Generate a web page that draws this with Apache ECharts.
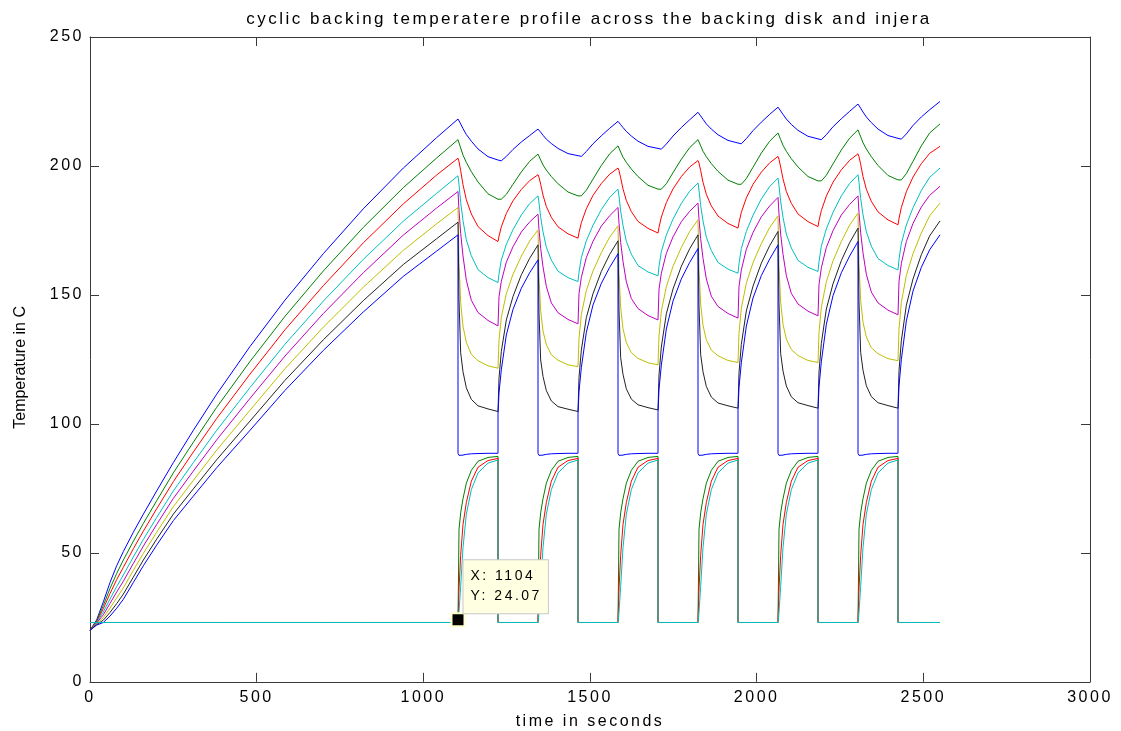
<!DOCTYPE html>
<html><head><meta charset="utf-8">
<script src="https://cdn.jsdelivr.net/npm/echarts@6/dist/echarts.min.js"></script>
<style>html,body{margin:0;padding:0;background:#fff}#c{width:1121px;height:731px}</style>
</head><body><div id="c"></div>
<script>
// wide MATLAB-like glyph spacing for horizontal text
(function(){
  var P = CanvasRenderingContext2D.prototype;
  if (!('letterSpacing' in P)) return;
  var of = P.fillText, om = P.measureText;
  P.fillText = function(){
    var m = this.getTransform();
    this.letterSpacing = Math.abs(m.b) > 0.01 ? '0px' : '2.5px';
    return of.apply(this, arguments);
  };
  P.measureText = function(){ this.letterSpacing = '2.5px'; return om.apply(this, arguments); };
})();

const titleText = 'cyclic backing temperatere profile across the backing disk and injera';
const xName = 'time in seconds';
const yName = 'Temperature in C';
const xTicks = [0, 3000, 500];
const yTicks = [0, 250, 50];
const tipX = 1104, tipY = 24.07;

const time = [0,20,40,60,80,100,130,160,200,250,310,380,480,585,700,820,940,1040,
 1104,1104,1107,1112,1119,1129,1144,1164,1194,1224,1224,1227,1234,1249,1269,1294,1319,
 1344,1344,1347,1352,1359,1369,1384,1404,1434,1464,1464,1467,1474,1489,1509,1534,1559,
 1584,1584,1587,1592,1599,1609,1624,1644,1674,1704,1704,1707,1714,1729,1749,1774,1799,
 1824,1824,1827,1832,1839,1849,1864,1884,1914,1944,1944,1947,1954,1969,1989,2014,2039,
 2064,2064,2067,2072,2079,2089,2104,2124,2154,2184,2184,2187,2194,2209,2229,2254,2279,
 2304,2304,2307,2312,2319,2329,2344,2364,2394,2424,2424,2427,2434,2449,2469,2494,2519,
 2550];

const disk1 = [20,24,31,38.5,45,50.5,58,65,74,85,97.5,111.5,130,148,166,183.4,199.2,211,
 218.2,218.2,217.5,216.3,214.5,212.2,209.6,206.6,203.6,202.3,202.3,202.1,202.0,203.7,206.4,209.3,211.8,
 214.3,214.3,213.8,213.1,211.9,210.4,208.7,206.8,204.8,204.0,204.0,203.8,203.7,205.6,208.6,211.7,214.6,
 217.3,217.3,216.8,216.0,214.9,213.4,211.6,209.6,207.6,206.8,206.8,206.6,206.5,208.5,211.6,214.9,217.9,
 220.8,220.8,220.3,219.4,218.1,216.3,214.3,212.1,209.9,208.9,208.9,208.7,208.6,210.6,213.7,217.0,220.0,
 222.8,222.8,222.3,221.3,220.0,218.2,216.1,213.8,211.5,210.5,210.5,210.3,210.2,212.1,215.2,218.3,221.2,
 224.0,224.0,223.4,222.4,220.9,219.0,216.8,214.3,211.8,210.7,210.7,210.5,210.4,212.4,215.7,219.0,221.8,
 225.0];
const disk2 = [20,23.6,29.6,36.2,42.0,47.2,54.5,61.4,70.2,81.0,92.9,106.4,124.2,141.7,159.3,176.2,191.6,203.1,
 210.2,210.2,209.5,207.0,204.2,201.4,197.8,193.8,189.2,187.1,187.1,186.9,187.1,189.0,192.9,197.7,201.8,
 204.6,204.6,204.1,202.3,200.4,198.4,195.9,193.1,189.9,188.4,188.4,188.2,188.4,190.6,194.9,200.2,204.7,
 207.8,207.8,207.3,205.4,203.4,201.4,198.8,195.9,192.5,191.0,191.0,190.8,191.0,193.1,197.4,202.6,207.1,
 210.2,210.2,209.7,207.8,205.7,203.6,200.9,197.9,194.5,192.9,192.9,192.7,192.9,195.1,199.5,205.0,209.6,
 212.8,212.8,212.2,210.2,208.0,205.7,202.8,199.6,195.9,194.2,194.2,194.0,194.2,196.4,200.8,206.2,210.8,
 214.0,214.0,213.4,211.3,209.0,206.6,203.6,200.2,196.3,194.6,194.6,194.4,194.6,197.0,201.8,207.8,212.8,
 216.3];
const disk3 = [20,23.3,28.4,34.2,39.6,44.4,51.6,58.4,67.1,77.6,89.1,102.1,119.3,136.5,153.6,170.2,185.3,196.5,
 203.0,203.0,201.7,198.2,192.7,186.9,181.4,176.5,173.0,170.7,170.7,172.8,176.4,181.6,186.5,190.9,194.3,
 196.6,196.6,195.6,192.9,188.7,184.3,180.1,176.4,173.7,172.0,172.0,174.2,178.0,183.4,188.6,193.2,196.8,
 199.2,199.2,198.2,195.4,191.1,186.6,182.3,178.5,175.8,174.0,174.0,176.2,180.2,185.8,191.1,195.9,199.6,
 202.1,202.1,201.1,198.2,193.7,189.0,184.5,180.6,177.7,175.9,175.9,178.1,182.0,187.6,192.9,197.6,201.2,
 203.7,203.7,202.6,199.6,195.0,190.1,185.5,181.4,178.4,176.5,176.5,178.8,182.7,188.3,193.7,198.5,202.2,
 204.7,204.7,203.6,200.6,195.9,191.0,186.3,182.2,179.1,177.2,177.2,179.6,183.9,190.0,195.7,200.9,204.9,
 207.6];
const disk4 = [20,23.0,27.1,32.1,36.9,41.4,48.4,55.2,63.7,74.0,85.0,97.5,114.1,130.9,147.6,163.8,178.6,189.4,
 196.2,196.2,192.9,185.9,178.8,171.4,165.2,159.8,156.7,154.8,154.8,158.2,163.5,169.6,175.3,181.0,185.4,
 188.4,188.4,185.7,180.1,174.5,168.5,163.5,159.2,156.7,155.2,155.2,158.8,164.5,171.0,177.0,183.1,187.8,
 191.0,191.0,188.3,182.6,176.9,170.8,165.8,161.4,158.9,157.4,157.4,161.0,166.8,173.2,179.4,185.5,190.2,
 193.4,193.4,190.6,184.7,178.7,172.4,167.2,162.6,160.0,158.4,158.4,162.1,168.0,174.6,180.9,187.2,192.0,
 195.3,195.3,192.4,186.3,180.1,173.6,168.2,163.4,160.7,159.1,159.1,162.9,168.9,175.6,182.0,188.4,193.2,
 196.6,196.6,193.6,187.4,181.1,174.5,168.9,164.1,161.4,159.7,159.7,163.7,170.0,177.1,183.8,190.5,195.6,
 199.2];
const disk5 = [20,22.8,26.0,30.4,34.8,39.0,45.9,52.6,61.0,71.1,81.7,93.8,109.9,126.3,142.8,158.6,173.2,183.7,
 190.1,190.1,182.8,173.9,165.1,155.7,147.9,143.2,140.1,138.0,138.0,149.3,155.3,162.7,168.7,174.4,178.3,
 181.3,181.3,175.4,168.1,160.9,153.3,146.9,143.1,140.5,138.8,138.8,150.5,156.8,164.5,170.8,176.7,180.7,
 183.9,183.9,177.8,170.4,163.0,155.1,148.6,144.7,142.0,140.3,140.3,152.1,158.4,166.1,172.5,178.4,182.4,
 185.6,185.6,179.4,171.8,164.2,156.2,149.5,145.5,142.8,141.0,141.0,153.2,159.7,167.7,174.2,180.3,184.5,
 187.8,187.8,181.4,173.6,165.8,157.5,150.6,146.5,143.7,141.9,141.9,154.0,160.5,168.4,174.9,181.0,185.1,
 188.4,188.4,181.9,174.1,166.3,158.0,151.1,146.9,144.1,142.3,142.3,155.2,162.2,170.7,177.7,184.1,188.6,
 192.1];
const disk6 = [20,22.5,24.9,28.6,32.5,36.4,43.2,49.8,58.0,67.9,78.1,89.8,105.3,121.4,137.5,153.0,167.3,177.6,
 183.9,183.9,162.7,147.1,137.8,131.6,127.0,124.5,122.5,121.6,121.6,132.3,141.4,150.5,158.0,165.0,170.9,
 175.2,175.2,157.2,143.9,136.0,130.7,126.8,124.7,122.9,122.2,122.2,133.1,142.4,151.7,159.3,166.4,172.4,
 176.8,176.8,158.5,145.0,136.9,131.5,127.6,125.4,123.7,122.9,122.9,134.1,143.7,153.2,161.1,168.4,174.6,
 179.1,179.1,160.3,146.5,138.2,132.6,128.6,126.4,124.6,123.8,123.8,135.2,144.9,154.5,162.5,169.9,176.1,
 180.7,180.7,161.4,147.1,138.6,132.9,128.8,126.5,124.6,123.8,123.8,135.4,145.2,155.1,163.2,170.7,177.1,
 181.7,181.7,162.3,147.9,139.4,133.7,129.5,127.2,125.3,124.5,124.5,136.7,147.1,157.5,166.0,174.0,180.7,
 185.6];
const disk7 = [20,22.2,23.9,26.9,30.3,34.0,40.6,47.2,55.3,65.0,74.8,86.1,101.1,116.9,132.6,147.8,161.8,171.8,
 178.2,178.2,148.1,127.6,120.2,114.0,109.5,107.0,105.8,104.8,104.8,117.7,128.1,140.3,149.4,157.8,164.2,
 169.4,169.4,142.9,124.8,118.4,112.9,108.9,106.7,105.7,104.8,104.8,118.0,128.6,141.2,150.5,159.1,165.7,
 171.0,171.0,144.1,125.7,119.2,113.6,109.6,107.4,106.3,105.4,105.4,119.0,129.8,142.7,152.3,161.1,167.9,
 173.3,173.3,145.7,126.9,120.2,114.5,110.4,108.1,107.0,106.1,106.1,119.8,130.8,143.8,153.4,162.3,169.1,
 174.6,174.6,146.5,127.3,120.5,114.7,110.5,108.2,107.1,106.1,106.1,120.1,131.2,144.5,154.3,163.3,170.3,
 175.9,175.9,147.3,127.7,120.8,114.8,110.6,108.2,107.1,106.1,106.1,120.6,132.2,146.0,156.2,165.6,172.9,
 178.7];
const disk8 = [20,22,23,25.5,28.5,32,38.5,45,53,62.5,72,83,97.5,113,128.5,143.4,157.2,167,
 173.3,88.6,87.8,87.5,87.9,88.2,88.4,88.5,88.6,88.6,103.8,112.0,121.0,134.5,144.4,152.6,158.6,
 163.6,88.6,87.8,87.5,87.9,88.2,88.4,88.5,88.6,88.6,103.8,112.5,121.8,135.5,146.1,154.5,160.7,
 166.0,88.6,87.8,87.5,87.9,88.2,88.4,88.5,88.6,88.6,104.4,113.3,122.8,136.8,147.6,156.2,162.6,
 168.0,88.6,87.8,87.5,87.9,88.2,88.4,88.5,88.6,88.6,105.1,114.1,123.7,137.9,148.8,157.5,163.9,
 169.4,88.6,87.8,87.5,87.9,88.2,88.4,88.5,88.6,88.6,105.1,114.3,124.1,138.6,149.7,158.6,165.1,
 170.7,88.6,87.8,87.5,87.9,88.2,88.4,88.5,88.6,88.6,105.1,114.6,124.9,139.9,151.5,160.7,167.5,
 173.3];
const injera1 = [23,23,23,23,23,23,23,23,23,23,23,23,23,23,23,23,23,23,
 23,23,59.0,65.5,71.0,77.0,82.0,85.5,87.0,87.4,23,23,23,23,23,23,23,
 23,23,59.0,65.5,71.0,77.0,82.0,85.5,87.0,87.4,23,23,23,23,23,23,23,
 23,23,59.0,65.5,71.0,77.0,82.0,85.5,87.0,87.4,23,23,23,23,23,23,23,
 23,23,59.0,65.5,71.0,77.0,82.0,85.5,87.0,87.4,23,23,23,23,23,23,23,
 23,23,59.0,65.5,71.0,77.0,82.0,85.5,87.0,87.4,23,23,23,23,23,23,23,
 23,23,59.0,65.5,71.0,77.0,82.0,85.5,87.0,87.4,23,23,23,23,23,23,23,
 23];
const injera2 = [23,23,23,23,23,23,23,23,23,23,23,23,23,23,23,23,23,23,
 23,24.07,36,49,61,69.5,77.8,83.2,85.8,86.6,23,23,23,23,23,23,23,
 23,24,36,49,61,69.5,77.8,83.2,85.8,86.6,23,23,23,23,23,23,23,
 23,24,36,49,61,69.5,77.8,83.2,85.8,86.6,23,23,23,23,23,23,23,
 23,24,36,49,61,69.5,77.8,83.2,85.8,86.6,23,23,23,23,23,23,23,
 23,24,36,49,61,69.5,77.8,83.2,85.8,86.6,23,23,23,23,23,23,23,
 23,24,36,49,61,69.5,77.8,83.2,85.8,86.6,23,23,23,23,23,23,23,
 23];
const injera3 = [23,23,23,23,23,23,23,23,23,23,23,23,23,23,23,23,23,23,
 23,23,27,37,52,65,74.5,81,84.8,86.0,23,23,23,23,23,23,23,
 23,23,27,37,52,65,74.5,81,84.8,86.0,23,23,23,23,23,23,23,
 23,23,27,37,52,65,74.5,81,84.8,86.0,23,23,23,23,23,23,23,
 23,23,27,37,52,65,74.5,81,84.8,86.0,23,23,23,23,23,23,23,
 23,23,27,37,52,65,74.5,81,84.8,86.0,23,23,23,23,23,23,23,
 23,23,27,37,52,65,74.5,81,84.8,86.0,23,23,23,23,23,23,23,
 23];

const seriesValues = [disk1, disk2, disk3, disk4, disk5, disk6, disk7, disk8, injera1, injera2, injera3];
const seriesColors = ['#0000ff','#008000','#ff0000','#00bfbf','#bf00bf','#bfbf00','#222222','#0000ff','#008000','#ff0000','#00bfbf'];

const font = 'Liberation Sans, Arial, sans-serif';
const axisCol = '#3a3a3a';

const series = seriesValues.map(function(vals, k){
  const s = {
    type: 'line', data: time.map(function(t, i){ return [t, vals[i]]; }),
    showSymbol: false, symbol: 'none', silent: true, animation: false,
    lineStyle: {width: 1, color: seriesColors[k]}, itemStyle: {color: seriesColors[k]}
  };
  if (k === seriesValues.length - 1) {
    s.markPoint = {
      silent: true, animation: false, z: 20,
      data: [{
        coord: [tipX, tipY], symbol: 'rect', symbolSize: 13,
        itemStyle: {color: '#000', borderColor: '#ffffcc', borderWidth: 2},
        label: {
          show: true, formatter: 'X: ' + tipX + '\nY: ' + tipY,
          position: [13, -52], align: 'left', verticalAlign: 'top',
          backgroundColor: '#ffffe1', borderColor: '#c8c8c8', borderWidth: 1,
          padding: [6, 6, 7, 7], color: '#000', fontSize: 14, lineHeight: 20, fontFamily: font
        }
      }]
    };
  }
  return s;
});

const chart = echarts.init(document.getElementById('c'), null, {renderer: 'canvas'});
const axisBase = function(pos, show){
  return {
    type: 'value', position: pos,
    axisLine: {show: true, onZero: false, lineStyle: {color: axisCol, width: 1}},
    axisTick: {show: true, inside: true, length: 9, lineStyle: {color: axisCol}},
    splitLine: {show: false},
    axisLabel: {show: show, color: '#000', fontSize: 16, fontFamily: font,
      formatter: function(v){ return String(v); }}
  };
};
const xa0 = Object.assign(axisBase('bottom', true), {min: xTicks[0], max: xTicks[1], interval: xTicks[2],
  name: xName, nameLocation: 'middle', nameGap: 25, nameTextStyle: {fontSize: 16, color: '#000', fontFamily: font}});
xa0.axisLabel.margin = 7;
const xa1 = Object.assign(axisBase('top', false), {min: xTicks[0], max: xTicks[1], interval: xTicks[2]});
const ya0 = Object.assign(axisBase('left', true), {min: yTicks[0], max: yTicks[1], interval: yTicks[2],
  name: yName, nameLocation: 'middle', nameGap: 60, nameRotate: 90,
  nameTextStyle: {fontSize: 16, color: '#000', fontFamily: font, padding: [0, 16, 0, 0]}});
ya0.axisLabel.margin = 6;
const ya1 = Object.assign(axisBase('right', false), {min: yTicks[0], max: yTicks[1], interval: yTicks[2]});

chart.setOption({
  animation: false,
  backgroundColor: '#ffffff',
  title: {text: titleText, left: 584, top: 5, textAlign: 'center',
    textStyle: {fontSize: 17, fontWeight: 'normal', color: '#000', fontFamily: font}},
  grid: {left: 90, right: 31, top: 37, bottom: 49.18, containLabel: false, outerBoundsMode: 'none'},
  xAxis: [xa0, xa1],
  yAxis: [ya0, ya1],
  series: series
});
</script></body></html>
